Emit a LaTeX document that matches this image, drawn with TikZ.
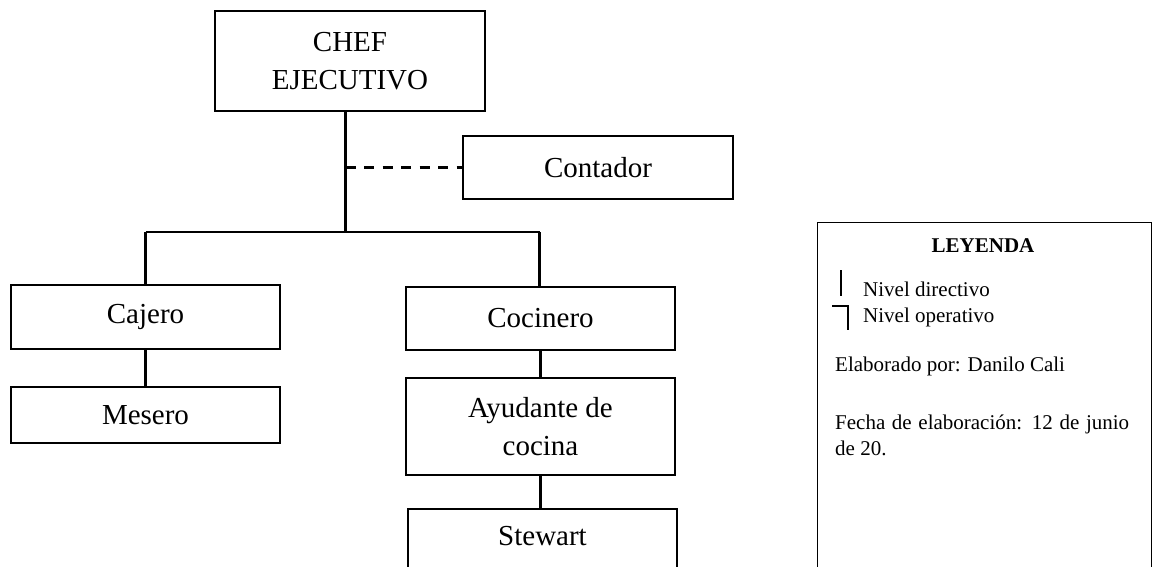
\documentclass[tikz,border=0pt]{standalone}
\usepackage{fontspec}
\setmainfont{Liberation Serif}
\begin{document}
\begin{tikzpicture}[x=1pt,y=-1pt,
  box/.style={draw, line width=1.2pt, inner sep=0pt, align=center, font=\fontsize{29}{38}\selectfont},
  conn/.style={line width=2.6pt},
  legtext/.style={inner sep=0pt, font=\fontsize{21}{25}\selectfont, anchor=base west}]
\useasboundingbox (0,0) rectangle (1152,566);
% boxes
\node[box, minimum width=270pt, minimum height=100pt] (chef) at (350,61) {CHEF\\EJECUTIVO};
\node[box, minimum width=270pt, minimum height=63pt] (cont) at (598,167.5) {Contador};
\node[box, minimum width=269pt, minimum height=64pt] (cajero) at (145.5,317) {Cajero};
\node[box, minimum width=269pt, minimum height=56pt] (mesero) at (145.5,415) {Mesero};
\node[box, minimum width=269pt, minimum height=63pt] (cocinero) at (540.5,318.5) {Cocinero};
\node[box, minimum width=269pt, minimum height=97pt] (ayud) at (540.5,426.5) {Ayudante de\\cocina};
\node[box, minimum width=269pt, minimum height=63pt, text height=20pt, text depth=11pt] (stewart) at (542.5,540.5) {Stewart};
% connectors
\coordinate (j) at (345.5,232);
\coordinate (hl) at (145.5,232);
\coordinate (hr) at (539.5,232);
\draw[conn] (chef.south -| j) -- (j);
\draw[line width=2.6pt, dash pattern=on 10pt off 8.5pt] (j |- cont.west) -- (cont.west);
\draw[line width=2.6pt] (hl) -- (hr);
\draw[conn] (hl) -- (hl |- cajero.north);
\draw[conn] (hr) -- (hr |- cocinero.north);
\draw[conn] (cajero.south) -- (mesero.north);
\draw[conn] (cocinero.south) -- (ayud.north);
\draw[conn] (ayud.south) -- (ayud.south |- stewart.north);
% legend
\node[draw, line width=1.2pt, minimum width=334pt, minimum height=400pt, anchor=north west, inner sep=0pt] (leg) at (817,222) {};
\node[inner sep=0pt, font=\bfseries\fontsize{21}{25}\selectfont] (leyenda) at (983,246) {LEYENDA};
\draw[line width=2.4pt] (841,270) -- (841,296);
\draw[line width=2.4pt] (832,306) -- (848,306) -- (848,330);
\node[legtext] (ldir) at (863,296) {Nivel directivo};
\node[legtext] (lop) at (863,322) {Nivel operativo};
\node[legtext] (lelab) at (835,371) {Elaborado por: Danilo Cali};
\node[legtext] (lfecha) at (835,429) {\makebox[294pt][s]{Fecha de elaboración: 12 de junio}};
\node[legtext] (lfecha2) at (835,455) {de 20.};
\end{tikzpicture}
\end{document}
